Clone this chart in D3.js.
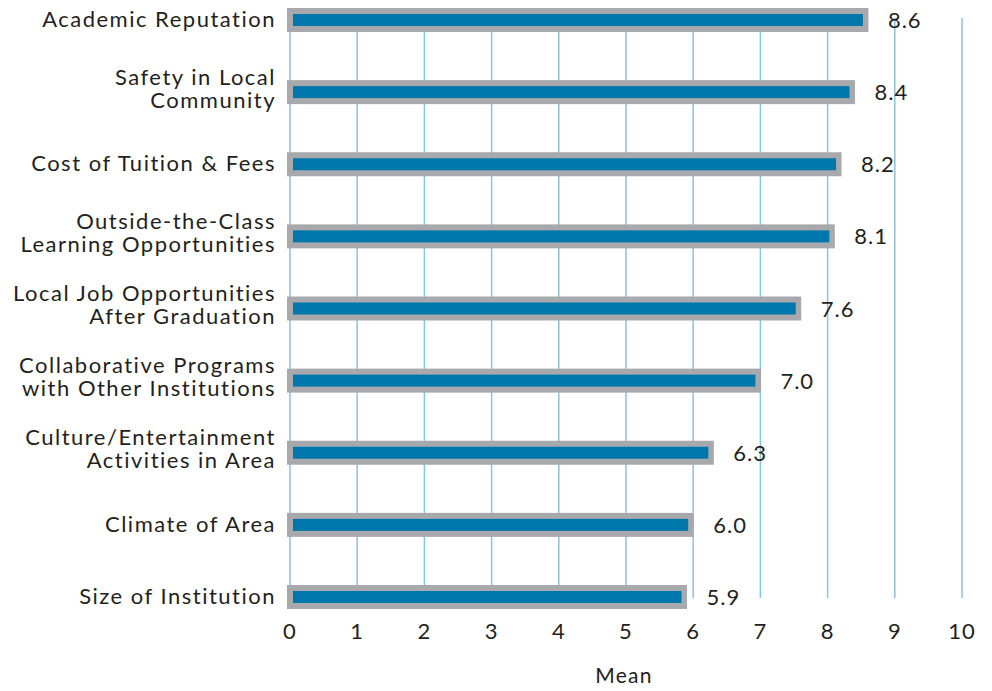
<!DOCTYPE html>
<html>
<head>
<meta charset="utf-8">
<script src="https://cdn.jsdelivr.net/npm/d3@7"></script>
<style>
    body { margin: 0; background: #ffffff; }
    svg { display: block; font-family: Lato, "Open Sans", sans-serif; }
    text { fill: #231f20; }
</style>
</head>
<body>
<svg id="chart" width="992" height="691"></svg>
<script>
// data
const categories = [
    ['Academic Reputation'],
    ['Safety in Local', 'Community'],
    ['Cost of Tuition & Fees'],
    ['Outside-the-Class', 'Learning Opportunities'],
    ['Local Job Opportunities', 'After Graduation'],
    ['Collaborative Programs', 'with Other Institutions'],
    ['Culture/Entertainment', 'Activities in Area'],
    ['Climate of Area'],
    ['Size of Institution']
];
const means = [8.6, 8.4, 8.2, 8.1, 7.6, 7.0, 6.3, 6.0, 5.9];
const valueLabels = ['8.6', '8.4', '8.2', '8.1', '7.6', '7.0', '6.3', '6.0', '5.9'];
const xTicks = [0, 1, 2, 3, 4, 5, 6, 7, 8, 9, 10];
const xTitle = 'Mean';

const rows = categories.map((c, i) => ({lines: c, value: means[i], label: valueLabels[i], idx: i}));

const svg = d3.select('#chart');

const x = d3.scaleLinear().domain([0, 10]).range([290, 962]);
const y = d3.scalePoint().domain(d3.range(rows.length)).range([20, 597]);

// vertical gridlines
svg.append('g')
    .selectAll('line')
    .data(xTicks)
    .enter()
    .append('line')
    .attr('x1', d => x(d))
    .attr('x2', d => x(d))
    .attr('y1', 18)
    .attr('y2', 598)
    .attr('stroke', '#86c4df')
    .attr('stroke-width', 1.5);

// tick labels
svg.append('g')
    .selectAll('text')
    .data(xTicks)
    .enter()
    .append('text')
    .attr('x', d => x(d))
    .attr('y', 639)
    .attr('text-anchor', 'middle')
    .style('font-size', '22px')
    .style('letter-spacing', '1px')
    .text(d => d);

svg.append('text')
    .attr('x', 624)
    .attr('y', 683)
    .attr('text-anchor', 'middle')
    .style('font-size', '21px')
    .style('letter-spacing', '1.3px')
    .text(xTitle);

const rowGroup = svg.append('g')
    .selectAll('g')
    .data(rows)
    .enter()
    .append('g');

// grey frame
rowGroup.append('rect')
    .attr('x', x(0) - 3)
    .attr('y', d => y(d.idx) - 12)
    .attr('width', d => x(d.value) - x(0) + 3.5)
    .attr('height', 24)
    .attr('fill', '#a7a9ac');

// blue bar
rowGroup.append('rect')
    .attr('x', x(0) + 3)
    .attr('y', d => y(d.idx) - 6)
    .attr('width', d => x(d.value) - x(0) - 8)
    .attr('height', 12)
    .attr('fill', '#0077aa');

// value labels
rowGroup.append('text')
    .attr('x', d => x(d.value) + 20)
    .attr('y', d => y(d.idx) + 8)
    .style('font-size', '22px')
    .style('letter-spacing', '1px')
    .text(d => d.label);

// category labels
rowGroup.append('text')
    .attr('text-anchor', 'end')
    .style('font-size', '22px')
    .style('letter-spacing', '1.5px')
    .each(function (d) {
        const t = d3.select(this);
        const lh = 23;
        const first = y(d.idx) + 7 - (d.lines.length - 1) * (lh / 2 + 3);
        d.lines.forEach((line, k) => {
            t.append('tspan')
                .attr('x', 276)
                .attr('y', first + k * lh)
                .text(line);
        });
    });
</script>
</body>
</html>
